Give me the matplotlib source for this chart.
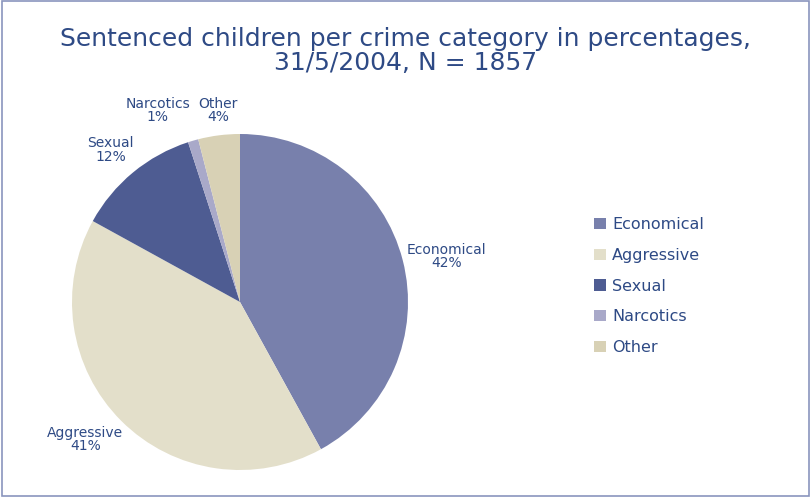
import matplotlib.pyplot as plt
from matplotlib.patches import Rectangle

categories = ["Economical", "Aggressive", "Sexual", "Narcotics", "Other"]
percentages = [42, 41, 12, 1, 4]
colors = ["#7880AC", "#E3DFCA", "#4E5C92", "#A9A9C9", "#D8D1B5"]
text_color = "#2E4A85"

# label centres, in pie radii
label_pos = [(1.23, 0.27), (-0.92, -0.82), (-0.77, 0.905), (-0.49, 1.14), (-0.13, 1.14)]

fig = plt.figure(figsize=(8.11, 4.98), dpi=100)

# pie area (center ~ (240, 302) px, radius ~168 px)
ax = fig.add_axes([72 / 811, 28 / 498, 336 / 811, 336 / 498])
labels = [f"{c}\n{p}%" for c, p in zip(categories, percentages)]
wedges, texts = ax.pie(percentages, colors=colors, startangle=90, counterclock=False,
                       labels=labels,
                       textprops=dict(color=text_color, fontsize=10, ha="center",
                                      va="center", linespacing=0.95))
for t, (x, y) in zip(texts, label_pos):
    t.set_position((x, y))
    t.set_clip_on(False)
ax.set_xlim(-1, 1)
ax.set_ylim(-1, 1)
ax.set_aspect("equal")

fig.suptitle("Sentenced children per crime category in percentages,\n31/5/2004, N = 1857",
             x=0.5, y=0.945, fontsize=18, color=text_color, linespacing=0.98)

leg = fig.legend(wedges, categories, loc="upper left", bbox_to_anchor=(580 / 811, 1 - 203 / 498),
                 frameon=False, fontsize=11.5, handlelength=0.7, handleheight=0.7,
                 handletextpad=0.4, labelspacing=0.98)
for t in leg.get_texts():
    t.set_color(text_color)

# thin border around the whole chart
fig.patches.append(Rectangle((0.002, 0.004), 0.996, 0.993, transform=fig.transFigure,
                             fill=False, edgecolor="#8A95BD", linewidth=1.2))

fig.savefig("out.png", dpi=100)
